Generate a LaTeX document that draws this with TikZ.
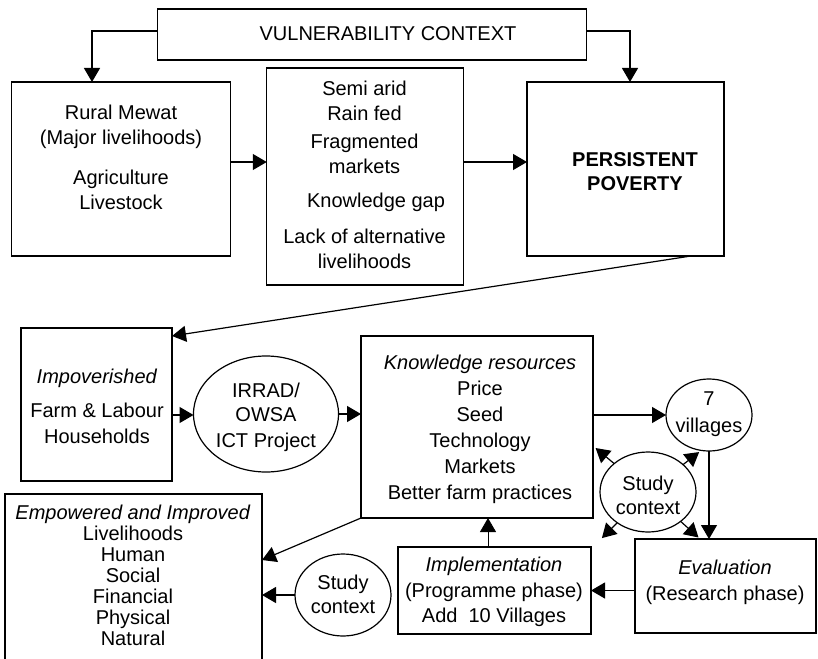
\documentclass[tikz,border=0pt]{standalone}
\usepackage{fontspec}
\setmainfont{Liberation Sans}
\usetikzlibrary{arrows.meta,shapes.geometric,calc}

\begin{document}
\begin{tikzpicture}[x=1pt,y=-1pt,
  line width=1.2pt,
  every node/.style={inner sep=0pt, outer sep=0pt},
  frame/.style={draw, rectangle},
  oval/.style={draw, ellipse},
  % text blocks are placed by the baseline of their last line
  txt/.style={align=center, font=\fontsize{20}{25}\selectfont, anchor=base},
  arr/.style={-{Triangle[length=14pt,width=16pt]}},
]
\useasboundingbox (0,0) rectangle (818,658);
\clip (0,0) rectangle (818,658);

% ---------- upper row ----------
\node[frame, minimum width=428.5pt, minimum height=51pt] (vuln) at (372,34.5) {};
\node[frame, minimum width=218.5pt, minimum height=174pt] (rural) at (121,169) {};
\node[frame, minimum width=196.5pt, minimum height=217pt] (mid) at (365,176.5) {};
\node[frame, minimum width=197pt, minimum height=174pt] (pers) at (625.5,169) {};

\node[txt] (tvuln) at (388,41) {VULNERABILITY CONTEXT};
\node[txt] (trural) at (121,209) {Rural Mewat\\(Major livelihoods)\\[15pt]Agriculture\\Livestock};
\node[txt] (tmid) at (364.5,268) {Semi arid\\Rain fed\\[3pt]Fragmented\\markets\\[9pt]\hspace*{23pt}Knowledge gap\\[11pt]Lack of alternative\\livelihoods};
\node[txt, font=\fontsize{20}{24}\selectfont\bfseries] (tpers) at (635,190) {PERSISTENT\\POVERTY};

% ---------- lower part ----------
\node[frame, minimum width=151pt, minimum height=153pt] (impov) at (96.5,404.5) {};
\node[oval, minimum width=145pt, minimum height=116pt] (irrad) at (266,414) {};
\node[frame, minimum width=232pt, minimum height=182pt] (know) at (477,427) {};
\node[oval, minimum width=86pt, minimum height=72pt] (seven) at (709,415) {};
\node[oval, minimum width=96pt, minimum height=80pt] (studyR) at (648,492) {};
\node[frame, minimum width=181pt, minimum height=94pt] (eval) at (725.5,586) {};
\node[frame, minimum width=193pt, minimum height=87pt] (impl) at (494.5,590.5) {};
\node[oval, minimum width=96pt, minimum height=82pt] (studyL) at (343,595) {};
\node[frame, minimum width=257pt, minimum height=174pt] (empow) at (133.5,581) {};

\node[txt] (timpov) at (97,443) {\textit{Impoverished}\\[9pt]Farm \& Labour\\[1pt]Households};
\node[txt] (tirrad) at (266,447) {IRRAD/\\[-1pt]OWSA\\[1pt]ICT Project};
\node[txt, font=\fontsize{20}{25.8}\selectfont] (tknow) at (480,499) {\textit{Knowledge resources}\\[1pt]Price\\Seed\\Technology\\Markets\\Better farm practices};
\node[txt] (tseven) at (709,432) {7\\[2pt]villages};
\node[txt] (tstudyR) at (648,514) {Study\\[-1pt]context};
\node[txt] (tstudyL) at (343,613) {Study\\[-1pt]context};
\node[txt] (teval) at (725,600) {\textit{Evaluation}\\[1pt](Research phase)};
\node[txt] (timpl) at (494,622) {\textit{Implementation}\\[1pt](Programme phase)\\Add\ \ 10 Villages};
\node[txt, font=\fontsize{20}{21}\selectfont] (tempow) at (133,645) {\textit{Empowered and Improved}\\Livelihoods\\Human\\Social\\Financial\\Physical\\Natural};

% ---------- connectors ----------
\draw[arr] ([yshift=3.5pt]vuln.west) -| ([xshift=-29pt]rural.north);
\draw[arr] ([yshift=3.5pt]vuln.east) -| ([xshift=4.5pt]pers.north);

\coordinate (rm) at ([yshift=7pt]rural.east);
\draw[arr] (rm) -- (rm -| mid.west);
\coordinate (mp) at ([yshift=14.5pt]mid.east);
\draw[arr] (mp) -- (mp -| pers.west);

\draw[arr] ([xshift=65.5pt]pers.south) -- ([yshift=-8pt]impov.north east);

\coordinate (ii) at ([yshift=-10.5pt]impov.east);
\draw[arr] (ii) -- (ii -| irrad.west);
\draw[arr] (irrad.east) -- (irrad.east -| know.west);
\draw[arr] (seven.west -| know.east) -- (seven.west);
\draw[arr] (seven.south) -- (seven.south |- eval.north);

% study context radiating arrows
\coordinate (sUL) at ($(studyR.center)!1.55!(studyR.140)$);
\coordinate (sUR) at ($(studyR.center)!1.46!(studyR.38)$);
\coordinate (sLL) at ($(studyR.center)!1.5!(studyR.225)$);
\coordinate (sLR) at ($(studyR.center)!1.55!(studyR.318)$);
\draw[arr] (studyR.140) -- (sUL);
\draw[arr] (studyR.38) -- (sUR);
\draw[arr] (studyR.225) -- (sLL);
\draw[arr] (studyR.318) -- (sLR);

\draw[arr] (eval.west |- impl.east) -- (impl.east);
\coordinate (ik) at ([xshift=-6.5pt]impl.north);
\draw[arr, line width=0.8pt] (ik) -- (ik |- know.south);
\draw[arr] (know.south west) -- ([yshift=21pt]empow.east);
\draw[arr] (studyL.west) -- (studyL.west -| empow.east);
\end{tikzpicture}
\end{document}
